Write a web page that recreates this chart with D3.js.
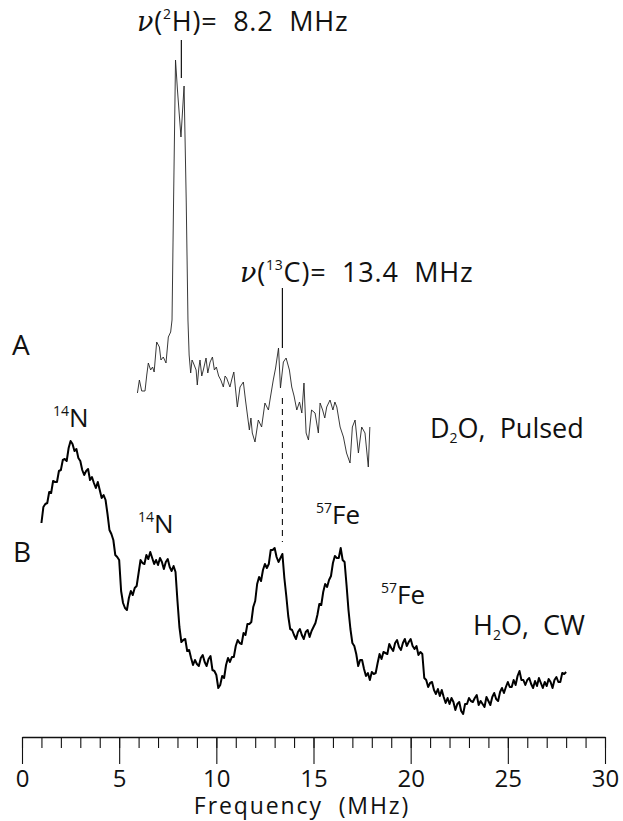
<!DOCTYPE html>
<html>
<head>
<meta charset="utf-8">
<script src="https://cdn.jsdelivr.net/npm/d3@7"></script>
<style>
  html, body { margin: 0; padding: 0; background: #fff; }
  svg text { font-family: "Open Sans", "DejaVu Sans", sans-serif; fill: #111; white-space: pre; }
</style>
</head>
<body>
<div class="spectrum"></div>
<script>
// ---- data (frequency in MHz, intensity in arbitrary units) ----
const majorTicks = [0, 5, 10, 15, 20, 25, 30];
const tickLabels = ['0', '5', '10', '15', '20', '25', '30'];
const minorTicks = d3.range(0, 31);

// trace A : D2O, pulsed ENDOR
const freqA = [5.94, 6.04, 6.16, 6.33, 6.42, 6.50, 6.62, 6.72, 6.80, 6.93, 7.07, 7.15, 7.27, 7.41,
  7.53, 7.65, 7.72, 7.80, 7.90, 8.00, 8.18, 8.34, 8.45, 8.54, 8.60, 8.68, 8.75, 8.82, 8.96, 9.02,
  9.10, 9.16, 9.25, 9.33, 9.47, 9.56, 9.68, 9.80, 9.90, 10.00, 10.12, 10.23, 10.36, 10.45, 10.53,
  10.70, 10.80, 10.90, 11.08, 11.22, 11.39, 11.50, 11.70, 11.78, 11.85, 11.99, 12.16, 12.33, 12.50,
  12.68, 12.76, 12.93, 13.05, 13.20, 13.30, 13.45, 13.59, 13.76, 13.88, 14.00, 14.14, 14.28, 14.40,
  14.51, 14.62, 14.74, 14.90, 15.08, 15.25, 15.34, 15.47, 15.58, 15.68, 15.85, 16.00, 16.10, 16.20,
  16.37, 16.54, 16.70, 16.88, 17.00, 17.14, 17.31, 17.48, 17.65, 17.82, 17.90];
const valA = [87, 100, 89, 89, 105, 117, 110, 113, 108, 138, 133, 120, 123, 117,
  143, 148, 160, 280, 420, 390, 343, 394, 280, 160, 125, 107, 120, 117, 110, 95,
  112, 120, 104, 110, 122, 107, 118, 123, 110, 113, 104, 100, 93, 104, 102,
  93, 101, 108, 73, 93, 98, 80, 50, 62, 47, 38, 60, 53, 77,
  70, 80, 100, 112, 132, 92, 118, 122, 110, 93, 84, 70, 78, 67,
  97, 47, 40, 70, 67, 47, 77, 70, 62, 73, 80, 70, 78, 73,
  53, 43, 27, 17, 53, 60, 27, 53, 47, 13, 53];

// trace B : H2O, CW ENDOR, sampled every 0.1 MHz from 1.0 to 28.0 MHz
const freqStartB = 1.0;
const freqStepB = 0.1;
const valB = [
  207, 223, 226, 227, 238, 237, 249, 248, 248, 259,
  260, 270, 271, 269, 282, 289, 286, 279, 281, 272,
  269, 260, 255, 259, 261, 250, 253, 247, 242, 248,
  240, 232, 235, 230, 216, 200, 196, 190, 175, 173,
  170, 139, 127, 122, 120, 132, 139, 135, 142, 144,
  157, 170, 167, 166, 175, 171, 178, 172, 166, 170,
  165, 172, 168, 161, 168, 171, 163, 159, 164, 158,
  129, 103, 88, 90, 91, 79, 80, 72, 65, 70,
  66, 64, 72, 75, 68, 64, 71, 74, 60, 59,
  55, 42, 45, 54, 52, 65, 72, 68, 73, 73,
  84, 90, 87, 86, 97, 95, 106, 106, 108, 123,
  129, 146, 153, 149, 160, 166, 162, 166, 180, 180,
  182, 173, 168, 172, 176, 152, 134, 114, 101, 100,
  95, 91, 98, 101, 95, 91, 98, 100, 93, 99,
  103, 107, 115, 126, 125, 138, 146, 143, 150, 154,
  167, 174, 172, 172, 182, 170, 168, 145, 120, 101,
  87, 84, 76, 64, 70, 70, 61, 54, 57, 50,
  58, 56, 57, 67, 76, 71, 78, 77, 76, 86,
  82, 79, 87, 90, 83, 80, 87, 91, 84, 88,
  91, 84, 81, 84, 75, 78, 76, 52, 50, 43,
  47, 48, 40, 36, 41, 34, 40, 33, 27, 32,
  26, 32, 28, 20, 26, 28, 19, 16, 26, 26,
  32, 29, 28, 32, 35, 25, 29, 26, 23, 33,
  29, 25, 33, 37, 31, 29, 38, 42, 37, 43,
  48, 43, 43, 50, 45, 54, 59, 50, 50, 45,
  50, 52, 46, 42, 49, 44, 52, 47, 42, 48,
  44, 51, 48, 42, 50, 53, 48, 48, 57, 56,
  58];

// line markers: [frequency, value from, value to]
const markerH = [8.2, 440, 402];
const markerC = [13.4, 192, 132];
const dashLink = [13.4, 82, 188];   // from trace A units down to trace B units

const width = 623,
  height = 821;

const svg = d3.select('.spectrum')
  .append('svg')
  .attr('width', width)
  .attr('height', height);

const x = d3.scaleLinear().domain([0, 30]).range([22, 605]);
const yA = d3.scaleLinear().domain([0, 450]).range([480, 30]);
const yB = d3.scaleLinear().domain([0, 300]).range([730, 430]);

const dataA = freqA.map((f, i) => [f, valA[i]]);
const dataB = valB.map((v, i) => [freqStartB + i * freqStepB, v]);

const lineA = d3.line().x(d => x(d[0])).y(d => yA(d[1]));
const lineB = d3.line().x(d => x(d[0])).y(d => yB(d[1]));

svg.append('path')
  .datum(dataA)
  .attr('d', lineA)
  .attr('fill', 'none')
  .attr('stroke', '#222')
  .attr('stroke-width', 0.9)
  .attr('stroke-linejoin', 'round');

svg.append('path')
  .datum(dataB)
  .attr('d', lineB)
  .attr('fill', 'none')
  .attr('stroke', '#000')
  .attr('stroke-width', 2)
  .attr('stroke-linejoin', 'round');

// markers
svg.append('line')
  .attr('x1', x(markerH[0])).attr('x2', x(markerH[0]))
  .attr('y1', yA(markerH[1])).attr('y2', yA(markerH[2]))
  .attr('stroke', '#111').attr('stroke-width', 1.2);
svg.append('line')
  .attr('x1', x(markerC[0])).attr('x2', x(markerC[0]))
  .attr('y1', yA(markerC[1])).attr('y2', yA(markerC[2]))
  .attr('stroke', '#111').attr('stroke-width', 1.2);
svg.append('line')
  .attr('x1', x(dashLink[0])).attr('x2', x(dashLink[0]))
  .attr('y1', yA(dashLink[1])).attr('y2', yB(dashLink[2]))
  .attr('stroke', '#111').attr('stroke-width', 1.1)
  .attr('stroke-dasharray', '6,5');

// axis
const axisY = 737;
const gAxis = svg.append('g').attr('transform', 'translate(0,' + axisY + ')');
gAxis.append('g')
  .call(d3.axisBottom(x).tickValues(minorTicks).tickSize(11).tickSizeOuter(0).tickFormat(''))
  .call(g => g.selectAll('line').attr('stroke', '#111').attr('stroke-width', 1.1))
  .call(g => g.select('.domain').attr('stroke', '#111').attr('stroke-width', 1.3));
gAxis.append('g')
  .call(d3.axisBottom(x).tickValues(majorTicks).tickSize(27).tickSizeOuter(0).tickPadding(6)
    .tickFormat((d, i) => tickLabels[i]))
  .call(g => g.select('.domain').remove())
  .call(g => g.selectAll('line').attr('stroke', '#111').attr('stroke-width', 1.1))
  .call(g => g.selectAll('text')
    .attr('font-size', 24)
    .attr('font-family', '"Open Sans", "DejaVu Sans", sans-serif')
    .attr('fill', '#111'));

svg.append('text')
  .attr('x', 302).attr('y', 814)
  .attr('text-anchor', 'middle')
  .attr('font-size', 23)
  .attr('letter-spacing', 1.9)
  .text('Frequency  (MHz)');

// labels
const nuLabel = (px, py, sup, rest) => {
  const t = svg.append('text').attr('x', px).attr('y', py)
    .attr('font-size', 27).attr('letter-spacing', 0.8);
  t.append('tspan').attr('font-family', '"DejaVu Serif", serif').attr('font-style', 'italic').text('\u03bd');
  t.append('tspan').text('(');
  t.append('tspan').attr('font-size', 14).attr('dy', -12).text(sup);
  t.append('tspan').attr('dy', 12).text(rest);
};
nuLabel(137, 31, '2', 'H)=  8.2  MHz');
nuLabel(240, 282, '13', 'C)=  13.4  MHz');

const isoLabel = (px, py, sup, rest) => {
  const t = svg.append('text').attr('x', px).attr('y', py).attr('font-size', 26);
  t.append('tspan').attr('font-size', 14).attr('dy', -11).text(sup);
  t.append('tspan').attr('dy', 11).text(rest);
};
isoLabel(53, 427, '14', 'N');
isoLabel(138, 533, '14', 'N');
isoLabel(316, 524, '57', 'Fe');
isoLabel(381, 604, '57', 'Fe');

const subLabel = (px, py, a, sub, b) => {
  const t = svg.append('text').attr('x', px).attr('y', py).attr('font-size', 27);
  t.append('tspan').text(a);
  t.append('tspan').attr('font-size', 14).attr('dy', 5).text(sub);
  t.append('tspan').attr('dy', -5).text(b);
};
subLabel(430, 438, 'D', '2', 'O,  Pulsed');
subLabel(473, 635, 'H', '2', 'O,  CW');

svg.append('text').attr('x', 12).attr('y', 355).attr('font-size', 28).text('A');
svg.append('text').attr('x', 13).attr('y', 562).attr('font-size', 28).text('B');
</script>
</body>
</html>
